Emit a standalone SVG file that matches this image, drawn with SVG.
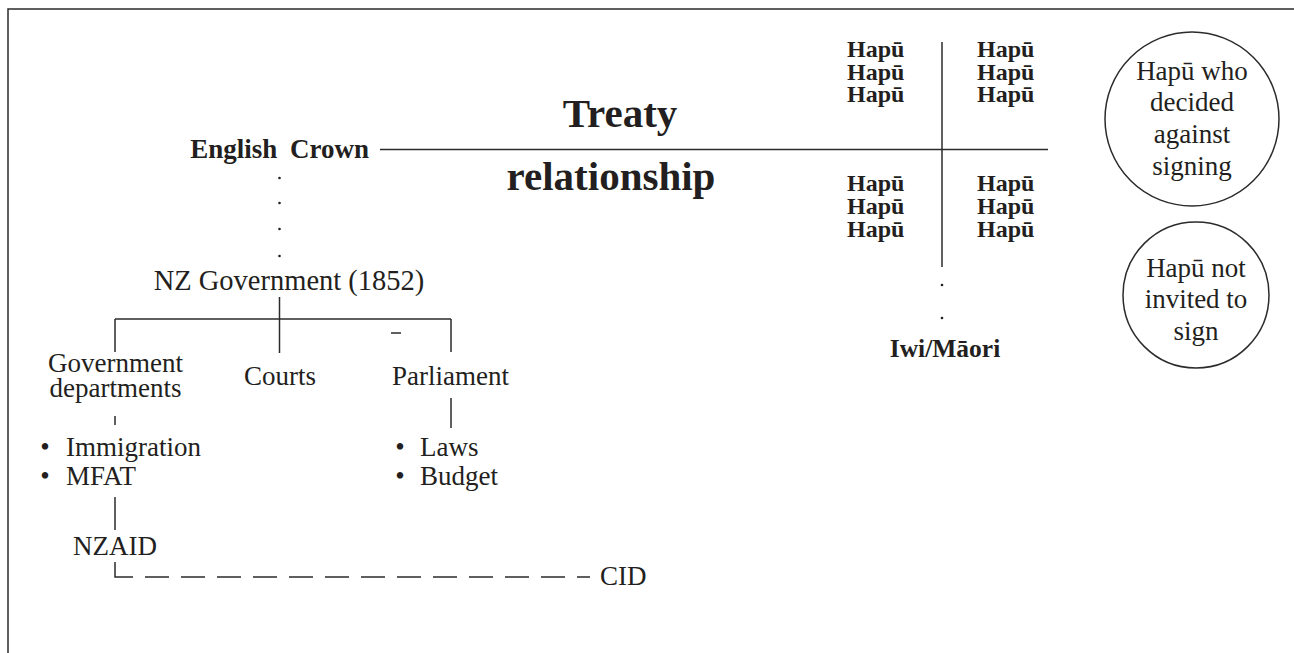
<svg xmlns="http://www.w3.org/2000/svg" width="1294" height="653" viewBox="0 0 1294 653">
<style>
text { font-family: "Liberation Serif", "Times New Roman", serif; fill: #231f20; }
.r { font-size: 27px; }
.hb { font-size: 27px; font-weight: bold; }
.hg { font-size: 24px; font-weight: bold; }
.big { font-size: 41px; font-weight: bold; }
.m { text-anchor: middle; }
.ln { stroke: #2b2b2b; stroke-width: 1.5; fill: none; }
.dot { fill: #231f20; }
.ring { stroke: #2b2b2b; stroke-width: 1.5; fill: none; }
</style>
<rect x="0" y="0" width="1294" height="653" fill="#ffffff"/>
<path class="ln" d="M8,653 V9 H1294" stroke-width="2"/>

<g id="connectors">
  <path class="ln" d="M380,149.5 H1048"/>
  <path class="ln" d="M942,42 V267"/>
  <path class="ln" d="M279.5,297 V353"/>
  <path class="ln" d="M115,319 H451"/>
  <path class="ln" d="M115,319 V352"/>
  <path class="ln" d="M451,319 V352"/>
  <path class="ln" d="M391,333 H401" stroke-width="1"/>
  <path class="ln" d="M115,416 V425"/>
  <path class="ln" d="M451,398 V428"/>
  <path class="ln" d="M115,497 V530"/>
  <path class="ln" d="M115,562 V577 H133"/>
  <path class="ln" d="M145,577 H590" stroke-dasharray="24 12"/>
  <circle class="dot" cx="279.5" cy="178" r="1.3"/>
  <circle class="dot" cx="279.5" cy="203" r="1.3"/>
  <circle class="dot" cx="279.5" cy="229" r="1.3"/>
  <circle class="dot" cx="279.5" cy="256" r="1.3"/>
  <circle class="dot" cx="942" cy="285" r="1.3"/>
  <circle class="dot" cx="942" cy="318" r="1.3"/>
</g>

<g id="english-crown"><text class="hb" x="369" y="158" text-anchor="end" word-spacing="6">English Crown</text></g>
<g id="treaty-relationship">
  <text class="big m" x="620" y="127">Treaty</text>
  <text class="big m" x="611" y="190">relationship</text>
</g>
<g id="hapu-grid">
  <text class="hg" x="847" y="57">Hapū</text>
  <text class="hg" x="847" y="79.5">Hapū</text>
  <text class="hg" x="847" y="102">Hapū</text>
  <text class="hg" x="977" y="57">Hapū</text>
  <text class="hg" x="977" y="79.5">Hapū</text>
  <text class="hg" x="977" y="102">Hapū</text>
  <text class="hg" x="847" y="191">Hapū</text>
  <text class="hg" x="847" y="214">Hapū</text>
  <text class="hg" x="847" y="237">Hapū</text>
  <text class="hg" x="977" y="191">Hapū</text>
  <text class="hg" x="977" y="214">Hapū</text>
  <text class="hg" x="977" y="237">Hapū</text>
</g>
<g id="iwi-maori"><text class="m" x="945" y="357" style="font-size:25.5px;font-weight:bold">Iwi/Māori</text></g>
<g id="hapu-declined">
  <circle class="ring" cx="1192" cy="119" r="87"/>
  <text class="r m" x="1192" y="80">Hapū who</text>
  <text class="r m" x="1192" y="111">decided</text>
  <text class="r m" x="1192" y="143">against</text>
  <text class="r m" x="1192" y="175">signing</text>
</g>
<g id="hapu-not-invited">
  <circle class="ring" cx="1196" cy="295" r="73"/>
  <text class="r m" x="1196" y="277">Hapū not</text>
  <text class="r m" x="1196" y="308">invited to</text>
  <text class="r m" x="1196" y="340">sign</text>
</g>
<g id="nz-government"><text class="m" x="289" y="290" style="font-size:28.5px">NZ Government (1852)</text></g>
<g id="government-departments">
  <text class="r m" x="115.5" y="372">Government</text>
  <text class="r m" x="115.5" y="397">departments</text>
</g>
<g id="courts"><text class="r m" x="280" y="385">Courts</text></g>
<g id="parliament"><text class="r" x="392" y="385">Parliament</text></g>
<g id="dept-list">
  <text class="r m" x="45" y="456">•</text>
  <text class="r" x="66" y="456">Immigration</text>
  <text class="r m" x="45" y="485">•</text>
  <text class="r" x="66" y="485">MFAT</text>
</g>
<g id="parliament-list">
  <text class="r m" x="400" y="456">•</text>
  <text class="r" x="420" y="456">Laws</text>
  <text class="r m" x="400" y="485">•</text>
  <text class="r" x="420" y="485">Budget</text>
</g>
<g id="nzaid"><text class="r m" x="115" y="555">NZAID</text></g>
<g id="cid"><text class="r" x="600" y="585">CID</text></g>
</svg>
